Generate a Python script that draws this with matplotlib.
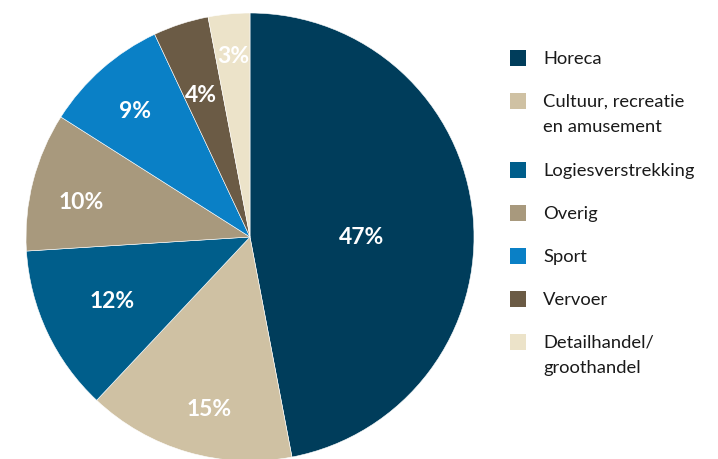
import matplotlib.pyplot as plt
import numpy as np
from matplotlib.patches import Rectangle

plt.rcParams['font.family'] = ['Lato', 'DejaVu Sans']

# data
labels = ['Horeca', 'Cultuur, recreatie\nen amusement', 'Logiesverstrekking',
          'Overig', 'Sport', 'Vervoer', 'Detailhandel/\ngroothandel']
shares = [47, 15, 12, 10, 9, 4, 3]
colors = ['#003d5b', '#cfc1a3', '#005e8b', '#a8997d', '#0a80c6', '#6b5b45', '#ece3c9']

# where the percentage text sits inside each slice (fraction of radius, angle tweak)
label_r = [0.50, 0.79, 0.68, 0.77, 0.76, 0.67, 0.81]
label_dang = [-5.5, 3, 0, 3, 1, 1, 0]

W, H = 718, 459
fig = plt.figure(figsize=(W / 100, H / 100), dpi=100)

cx, cy, r = 250, 237, 224
ax = fig.add_axes([(cx - r) / W, (H - cy - r) / H, 2 * r / W, 2 * r / H])
wedges, _ = ax.pie(shares, colors=colors, startangle=90, counterclock=False,
                   radius=1, wedgeprops=dict(edgecolor='white', linewidth=0.4))
ax.set_xlim(-1, 1)
ax.set_ylim(-1, 1)
ax.set_aspect('auto')
ax.axis('off')

for w, s, lr, da in zip(wedges, shares, label_r, label_dang):
    ang = np.deg2rad((w.theta1 + w.theta2) / 2 + da)
    ax.text(lr * np.cos(ang), lr * np.sin(ang), f'{s}%', ha='center', va='center',
            color='white', fontsize=16.5, fontweight='bold')

# legend drawn by hand so the swatch lines up with the first text line
y = 58
sq = 16
for lab, c in zip(labels, colors):
    fig.patches.append(Rectangle((510 / W, (H - y - sq / 2) / H), sq / W, sq / H,
                                 transform=fig.transFigure, facecolor=c, edgecolor='none'))
    fig.text(543 / W, (H - y + 7) / H, lab, ha='left', va='top', fontsize=13.2,
             color='#1a1a1a', linespacing=1.7)
    y += 43 + 26 * lab.count('\n')

fig.savefig('out.png', dpi=100)
